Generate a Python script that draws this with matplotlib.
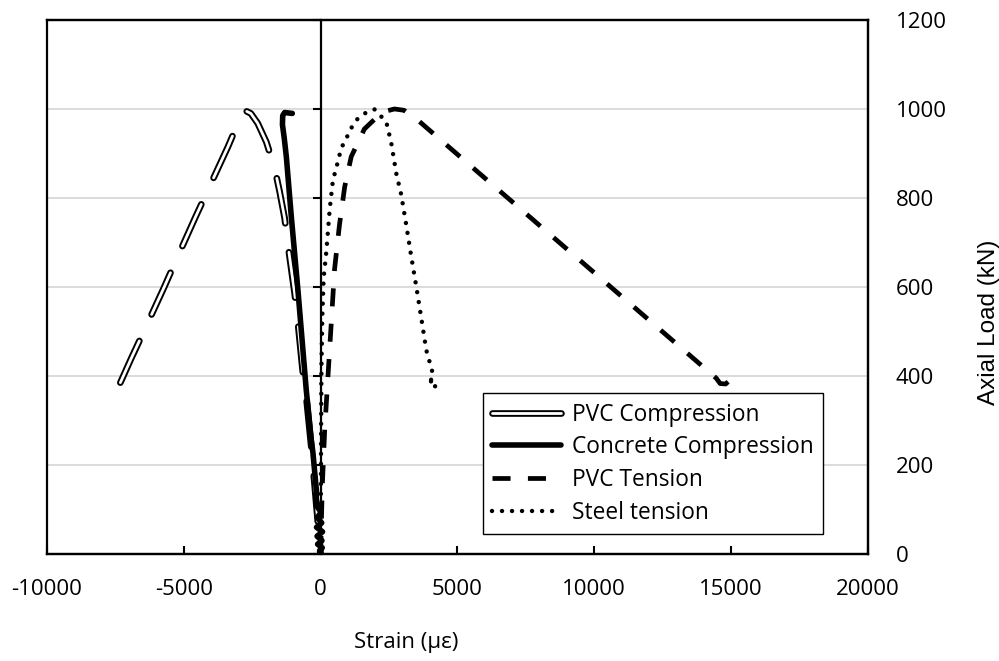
import matplotlib.pyplot as plt
from matplotlib.lines import Line2D
from matplotlib.legend_handler import HandlerTuple

# ---------------------------------------------------------------------------
# Data (strain in microstrain, load in kN)
# ---------------------------------------------------------------------------
pvc_comp_strain = [0, -170, -341, -524, -658, -840, -950, -1205, -1315, -1500,
                   -1680, -1985, -2300, -2550, -2715, -2850, -3020, -3387,
                   -4176, -4567, -5334, -5736, -6492, -6917, -7318]
pvc_comp_load = [0, 120, 241, 353, 413, 526, 586, 699, 755, 815,
                 867, 926, 968, 990, 995, 985, 968, 915,
                 810, 758, 653, 597, 496, 440, 385]

conc_comp_strain = [0, -40, 60, -110, 50, -130, 70, -150, 40, -120, 20,
                    -170, -150, -210, -280, -340, -524, -829, -1071, -1253,
                    -1330, -1395, -1385, -1315, -1034]
conc_comp_load = [0, 6, 14, 22, 30, 40, 50, 60, 70, 82, 94,
                  110, 140, 180, 227, 256, 368, 593, 758, 893,
                  935, 965, 985, 992, 990]

pvc_ten_strain = [0, 60, 150, 260, 390, 510, 690, 880, 1120, 1600, 2250,
                  2700, 3050, 3550, 14457, 14600, 14800, 14943]
pvc_ten_load = [0, 150, 280, 390, 520, 640, 740, 825, 893, 955, 993,
                1000, 997, 975, 395, 383, 382, 390]

steel_ten_strain = [0, 10, 20, 30, 60, 110, 210, 330, 450, 570, 755, 940,
                    1120, 1300, 1610, 1970, 2400, 2583, 2765, 2947, 3130,
                    3313, 3496, 3679, 3862, 4068, 4110, 3880, 4160, 4200]
steel_ten_load = [0, 150, 300, 420, 530, 620, 680, 773, 840, 867, 912, 934,
                  957, 975, 990, 999, 971, 923, 855, 807, 739,
                  668, 601, 530, 458, 413, 395, 384, 391, 367]

x_ticks = [-10000, -5000, 0, 5000, 10000, 15000, 20000]
y_ticks = [0, 200, 400, 600, 800, 1000, 1200]
series_names = ['PVC Compression', 'Concrete Compression', 'PVC Tension', 'Steel tension']

plt.rcParams['font.family'] = ['Open Sans', 'DejaVu Sans']
plt.rcParams['axes.unicode_minus'] = False
plt.rcParams['lines.scale_dashes'] = False

fig = plt.figure(figsize=(9.99, 6.61), dpi=100)
ax = fig.add_axes([0.0470, 0.1619, 0.8218, 0.8079])

# PVC compression: hollow (double) long-dash line, drawn from its far end
# so the dash pattern starts at the visible tip
pc_x = pvc_comp_strain[::-1]
pc_y = pvc_comp_load[::-1]
ax.plot(pc_x, pc_y, color='black', lw=4.8,
        dashes=(33, 21), dash_capstyle='round', solid_joinstyle='round')
ax.plot(pc_x, pc_y, color='white', lw=2.0,
        dashes=(33, 21), dash_capstyle='round', solid_joinstyle='round')
cc, = ax.plot(conc_comp_strain, conc_comp_load, color='black', lw=4.0,
              solid_capstyle='round', solid_joinstyle='round')
pt, = ax.plot(pvc_ten_strain, pvc_ten_load, color='black', lw=3.4,
              dashes=(13, 12.5), dash_capstyle='butt')
st, = ax.plot(steel_ten_strain, steel_ten_load, color='black', lw=3.2,
              dashes=(0.01, 7.2), dash_capstyle='round')

ax.set_xlim(-10000, 20000)
ax.set_ylim(0, 1200)
ax.set_xticks(x_ticks)
ax.set_xticklabels([str(v) for v in x_ticks])
ax.set_yticks(y_ticks)
ax.yaxis.grid(True, color='#d9d9d9', lw=1.3)
ax.set_axisbelow(True)

for side in ['top', 'right', 'bottom', 'left']:
    ax.spines[side].set_linewidth(1.6)
ax.spines['left'].set_position(('data', 0))

ax.tick_params(axis='y', direction='out', length=6, width=1.5,
               labelleft=False, right=False)
ax.tick_params(axis='x', direction='in', length=6, width=1.5,
               labelsize=16, pad=18)

# right-hand labels + left frame edge
ax2 = ax.twinx()
ax2.set_ylim(0, 1200)
ax2.set_yticks(y_ticks)
ax2.set_yticklabels([str(v) for v in y_ticks])
ax2.tick_params(axis='y', length=0, pad=20, labelsize=16)
for side in ['top', 'right', 'bottom', 'left']:
    ax2.spines[side].set_linewidth(1.6)

ax.set_xlabel('Strain (\u03bc\u03b5)', fontsize=16, va='center')
ax.xaxis.set_label_coords(0.437, -0.165)
ax2.set_ylabel('Axial Load (kN)', family='Liberation Sans', fontsize=17.5,
               rotation=90, va='center', ha='center')
ax2.yaxis.set_label_coords(1.147, 0.434)

# legend proxy for the hollow line (solid bar in the key)
pc_key = (Line2D([], [], color='black', lw=4.8, solid_capstyle='round'),
          Line2D([], [], color='white', lw=2.0, solid_capstyle='round'))
leg = ax.legend([pc_key, cc, pt, st], series_names,
                handler_map={tuple: HandlerTuple(ndivide=1)},
                loc='lower left', bbox_to_anchor=(0.531, 0.037), borderaxespad=0,
                fontsize=16.4, handlelength=3.0, handletextpad=0.5,
                labelspacing=0.38, borderpad=0.42, fancybox=False, framealpha=1)
leg.get_frame().set_edgecolor('black')
leg.get_frame().set_linewidth(1.0)

plt.savefig('out.png', dpi=100)
